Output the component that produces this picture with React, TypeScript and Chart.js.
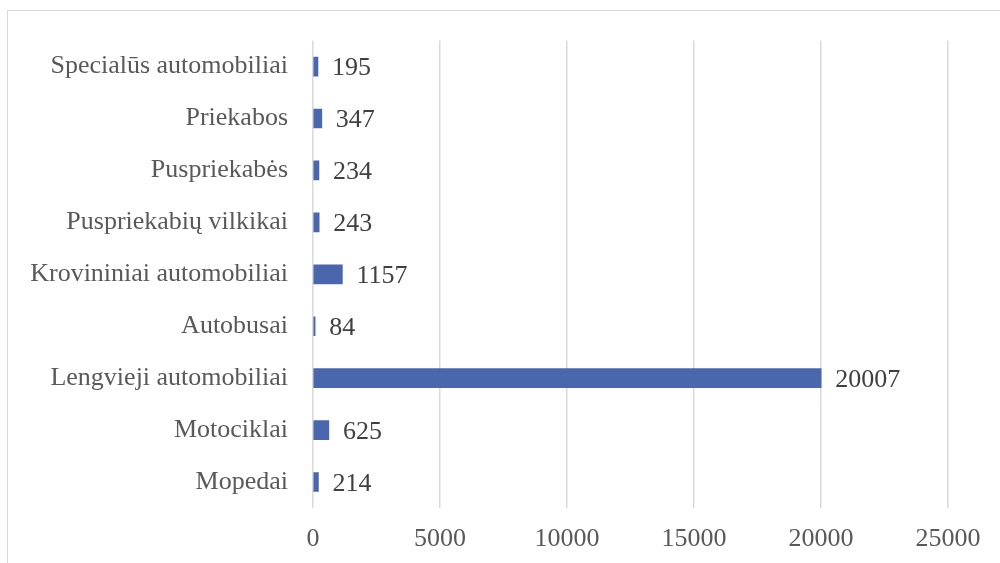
import React, { useEffect, useRef } from "react";
import { Chart, registerables } from "chart.js";

Chart.register(...registerables);

const categories = [
  "Specialūs automobiliai",
  "Priekabos",
  "Puspriekabės",
  "Puspriekabių vilkikai",
  "Krovininiai automobiliai",
  "Autobusai",
  "Lengvieji automobiliai",
  "Motociklai",
  "Mopedai",
];
const values = [195, 347, 234, 243, 1157, 84, 20007, 625, 214];
const xMin = 0;
const xMax = 25000;
const xStep = 5000;

const FONT = "'Liberation Serif', 'Times New Roman', serif";

const valueLabels = {
  id: "valueLabels",
  afterDatasetsDraw(chart: any) {
    const ctx = chart.ctx;
    const meta = chart.getDatasetMeta(0);
    ctx.save();
    ctx.font = `26px ${FONT}`;
    ctx.fillStyle = "#404040";
    ctx.textAlign = "left";
    ctx.textBaseline = "middle";
    meta.data.forEach((el: any, i: number) => {
      ctx.fillText(String(values[i]), el.x + 14, el.y + 2);
    });
    ctx.restore();
  },
};

export default function App() {
  const ref = useRef<HTMLCanvasElement>(null);
  useEffect(() => {
    if (!ref.current) return;
    const chart = new Chart(ref.current, {
      type: "bar",
      data: {
        labels: categories,
        datasets: [
          {
            data: values,
            backgroundColor: "#4a67ad",
            borderWidth: 0,
            barThickness: 19,
          },
        ],
      },
      options: {
        indexAxis: "y",
        responsive: false,
        animation: false,
        layout: { padding: { top: 40, right: 52, left: 0, bottom: 0 } },
        plugins: { legend: { display: false }, tooltip: { enabled: false } },
        scales: {
          x: {
            min: xMin,
            max: xMax,
            ticks: {
              stepSize: xStep,
              color: "#595959",
              font: { family: FONT, size: 26 },
              padding: 16,
              maxRotation: 0,
              callback: (v: any) => String(v),
            },
            grid: { color: "#d9d9d9", lineWidth: 1.5, drawTicks: false },
            border: { display: false },
            afterFit: (s: any) => {
              s.height = 55;
            },
          },
          y: {
            ticks: {
              color: "#595959",
              font: { family: FONT, size: 26 },
              padding: 25,
            },
            grid: { display: false, drawTicks: false },
            border: { display: false },
            afterFit: (s: any) => {
              s.width = 313;
            },
          },
        },
      },
      plugins: [valueLabels],
    });
    return () => chart.destroy();
  }, []);
  return (
    <div style={{ position: "fixed", left: 0, top: 0, width: 1000, height: 563, background: "#fff", overflow: "hidden" }}>
      <div style={{ position: "absolute", left: 7, top: 10, width: 1100, height: 700, border: "1.5px solid #d9d9d9" }} />
      <canvas ref={ref} width={1000} height={563} style={{ position: "absolute", left: 0, top: 0 }} />
    </div>
  );
}
